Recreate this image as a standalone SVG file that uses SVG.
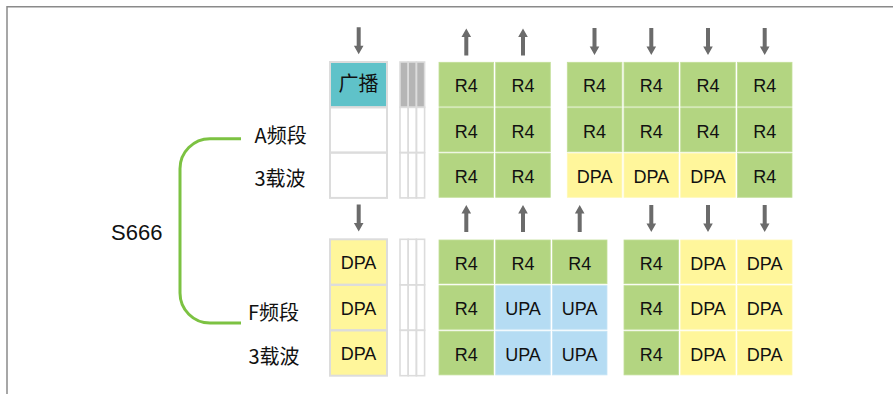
<svg xmlns="http://www.w3.org/2000/svg" xmlns:xlink="http://www.w3.org/1999/xlink" width="893" height="394" viewBox="0 0 893 394">
<style>
.g{fill:#b3d581;stroke:#c2de98;stroke-width:0.8}
.y{fill:#fff69b;stroke:#fff8b4;stroke-width:0.8}
.b{fill:#b5dcf3;stroke:#c6e4f6;stroke-width:0.8}
.t{font-family:"Liberation Sans",Arial,sans-serif;font-size:18px;fill:#111;text-anchor:middle}
.c{font-family:"Noto Sans CJK SC","Noto Sans",sans-serif;font-size:20px;fill:#111}
.o{fill:none;stroke:#dcdcdc;stroke-width:2}
.s{fill:none;stroke:#dcdcdc;stroke-width:1.6}
.a{fill:#6b6b6b}
</style>
<defs>
<path id="dn" d="M-2,0 H2 V18.5 H4.8 L0,27 L-4.8,18.5 H-2 Z"/>
<path id="up" d="M-2,27 H2 V8.5 H4.8 L0,0 L-4.8,8.5 H-2 Z"/>
</defs>
<rect width="893" height="394" fill="#fff"/>
<path d="M7,394 V6.8 H893" fill="none" stroke="#8a8a8a" stroke-width="1.5"/>

<g id="connectors">
<path d="M241,138.7 H210 A30,30 0 0 0 180,168.7 V293 A30,30 0 0 0 210,323 H241" fill="none" stroke="#7cc242" stroke-width="3"/>
<g class="a">
<use xlink:href="#dn" x="358.7" y="27.3"/>
<use xlink:href="#up" x="466.3" y="28.5"/>
<use xlink:href="#up" x="523" y="28.5"/>
<use xlink:href="#dn" x="594.5" y="28"/>
<use xlink:href="#dn" x="651.3" y="28"/>
<use xlink:href="#dn" x="708" y="28"/>
<use xlink:href="#dn" x="764.7" y="28"/>
<use xlink:href="#dn" x="358.7" y="204.5"/>
<use xlink:href="#up" x="466.3" y="205"/>
<use xlink:href="#up" x="523" y="205"/>
<use xlink:href="#up" x="579.7" y="205"/>
<use xlink:href="#dn" x="651.3" y="205"/>
<use xlink:href="#dn" x="708" y="205"/>
<use xlink:href="#dn" x="764.7" y="205"/>
</g>
</g>

<g id="labels">
<text x="111" y="240" font-family="'Liberation Sans',Arial,sans-serif" font-size="22" fill="#111">S666</text>
<text class="c" x="254.5" y="142.5">A频段</text>
<text class="c" x="254.5" y="186">3载波</text>
<text class="c" x="248" y="320">F频段</text>
<text class="c" x="248.5" y="363.5">3载波</text>
</g>

<g id="col-bcast-top">
<rect x="330" y="62" width="57" height="45.3" fill="#5fc2c9"/>
<rect class="o" x="330" y="62" width="57" height="45.3"/>
<rect class="o" x="330" y="107.3" width="57" height="45.3"/>
<rect class="o" x="330" y="152.6" width="57" height="45.3"/>
<text class="c" x="358.5" y="91" text-anchor="middle" font-size="19">广播</text>
</g>

<g id="col-bcast-bottom">
<rect x="330" y="239.3" width="57" height="136.4" fill="#fff69b"/>
<rect class="o" x="330" y="239.3" width="57" height="45.5"/>
<rect class="o" x="330" y="284.8" width="57" height="45.5"/>
<rect class="o" x="330" y="330.3" width="57" height="45.4"/>
<text class="t" x="358.5" y="269">DPA</text>
<text class="t" x="358.5" y="314.5">DPA</text>
<text class="t" x="358.5" y="360">DPA</text>
</g>

<g id="stripes-top">
<rect x="400" y="62" width="24.6" height="45.3" fill="#b5b5b5"/>
<rect class="s" x="400" y="62" width="8.2" height="45.3"/>
<rect class="s" x="408.2" y="62" width="8.2" height="45.3"/>
<rect class="s" x="416.4" y="62" width="8.2" height="45.3"/>
<rect class="s" x="400" y="107.3" width="8.2" height="45.3"/>
<rect class="s" x="408.2" y="107.3" width="8.2" height="45.3"/>
<rect class="s" x="416.4" y="107.3" width="8.2" height="45.3"/>
<rect class="s" x="400" y="152.6" width="8.2" height="45.3"/>
<rect class="s" x="408.2" y="152.6" width="8.2" height="45.3"/>
<rect class="s" x="416.4" y="152.6" width="8.2" height="45.3"/>
</g>

<g id="stripes-bottom">
<rect class="s" x="400" y="239.3" width="8.2" height="45.5"/>
<rect class="s" x="408.2" y="239.3" width="8.2" height="45.5"/>
<rect class="s" x="416.4" y="239.3" width="8.2" height="45.5"/>
<rect class="s" x="400" y="284.8" width="8.2" height="45.5"/>
<rect class="s" x="408.2" y="284.8" width="8.2" height="45.5"/>
<rect class="s" x="416.4" y="284.8" width="8.2" height="45.5"/>
<rect class="s" x="400" y="330.3" width="8.2" height="45.4"/>
<rect class="s" x="408.2" y="330.3" width="8.2" height="45.4"/>
<rect class="s" x="416.4" y="330.3" width="8.2" height="45.4"/>
</g>

<g id="grid-top">
<rect class="g" x="439" y="62.3" width="54.6" height="44"/><text class="t" x="466.3" y="92">R4</text>
<rect class="g" x="495.7" y="62.3" width="54.6" height="44"/><text class="t" x="523" y="92">R4</text>
<rect class="g" x="567.3" y="62.3" width="54.6" height="44"/><text class="t" x="594.6" y="92">R4</text>
<rect class="g" x="624" y="62.3" width="54.6" height="44"/><text class="t" x="651.3" y="92">R4</text>
<rect class="g" x="680.7" y="62.3" width="54.6" height="44"/><text class="t" x="708" y="92">R4</text>
<rect class="g" x="737.4" y="62.3" width="54.6" height="44"/><text class="t" x="764.7" y="92">R4</text>

<rect class="g" x="439" y="107.8" width="54.6" height="44"/><text class="t" x="466.3" y="137.5">R4</text>
<rect class="g" x="495.7" y="107.8" width="54.6" height="44"/><text class="t" x="523" y="137.5">R4</text>
<rect class="g" x="567.3" y="107.8" width="54.6" height="44"/><text class="t" x="594.6" y="137.5">R4</text>
<rect class="g" x="624" y="107.8" width="54.6" height="44"/><text class="t" x="651.3" y="137.5">R4</text>
<rect class="g" x="680.7" y="107.8" width="54.6" height="44"/><text class="t" x="708" y="137.5">R4</text>
<rect class="g" x="737.4" y="107.8" width="54.6" height="44"/><text class="t" x="764.7" y="137.5">R4</text>

<rect class="g" x="439" y="153.3" width="54.6" height="44"/><text class="t" x="466.3" y="183">R4</text>
<rect class="g" x="495.7" y="153.3" width="54.6" height="44"/><text class="t" x="523" y="183">R4</text>
<rect class="y" x="567.3" y="153.3" width="54.6" height="44"/><text class="t" x="594.6" y="183">DPA</text>
<rect class="y" x="624" y="153.3" width="54.6" height="44"/><text class="t" x="651.3" y="183">DPA</text>
<rect class="y" x="680.7" y="153.3" width="54.6" height="44"/><text class="t" x="708" y="183">DPA</text>
<rect class="g" x="737.4" y="153.3" width="54.6" height="44"/><text class="t" x="764.7" y="183">R4</text>
</g>

<g id="grid-bottom">
<rect class="g" x="439" y="240" width="54.6" height="43.7"/><text class="t" x="466.3" y="269.5">R4</text>
<rect class="g" x="495.7" y="240" width="54.6" height="43.7"/><text class="t" x="523" y="269.5">R4</text>
<rect class="g" x="552.4" y="240" width="54.6" height="43.7"/><text class="t" x="579.7" y="269.5">R4</text>
<rect class="g" x="624" y="240" width="54.6" height="43.7"/><text class="t" x="651.3" y="269.5">R4</text>
<rect class="y" x="680.7" y="240" width="54.6" height="43.7"/><text class="t" x="708" y="269.5">DPA</text>
<rect class="y" x="737.4" y="240" width="54.6" height="43.7"/><text class="t" x="764.7" y="269.5">DPA</text>

<rect class="g" x="439" y="285.6" width="54.6" height="43.7"/><text class="t" x="466.3" y="315">R4</text>
<rect class="b" x="495.7" y="285.6" width="54.6" height="43.7"/><text class="t" x="523" y="315">UPA</text>
<rect class="b" x="552.4" y="285.6" width="54.6" height="43.7"/><text class="t" x="579.7" y="315">UPA</text>
<rect class="g" x="624" y="285.6" width="54.6" height="43.7"/><text class="t" x="651.3" y="315">R4</text>
<rect class="y" x="680.7" y="285.6" width="54.6" height="43.7"/><text class="t" x="708" y="315">DPA</text>
<rect class="y" x="737.4" y="285.6" width="54.6" height="43.7"/><text class="t" x="764.7" y="315">DPA</text>

<rect class="g" x="439" y="331.2" width="54.6" height="43.7"/><text class="t" x="466.3" y="360.5">R4</text>
<rect class="b" x="495.7" y="331.2" width="54.6" height="43.7"/><text class="t" x="523" y="360.5">UPA</text>
<rect class="b" x="552.4" y="331.2" width="54.6" height="43.7"/><text class="t" x="579.7" y="360.5">UPA</text>
<rect class="g" x="624" y="331.2" width="54.6" height="43.7"/><text class="t" x="651.3" y="360.5">R4</text>
<rect class="y" x="680.7" y="331.2" width="54.6" height="43.7"/><text class="t" x="708" y="360.5">DPA</text>
<rect class="y" x="737.4" y="331.2" width="54.6" height="43.7"/><text class="t" x="764.7" y="360.5">DPA</text>
</g>
</svg>
